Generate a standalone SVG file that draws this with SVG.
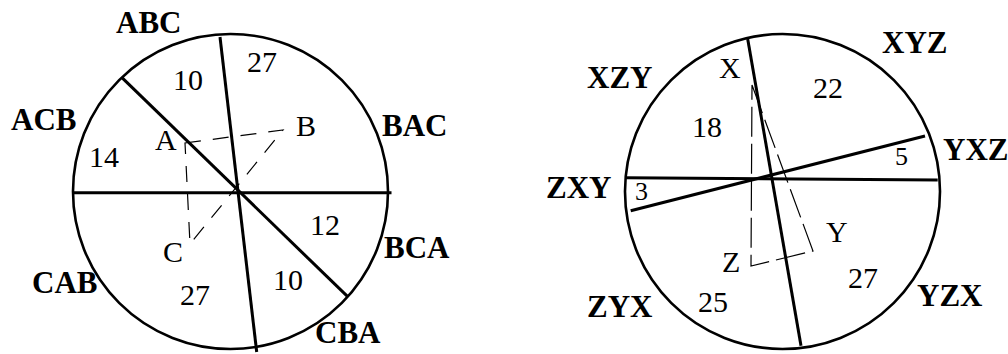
<svg xmlns="http://www.w3.org/2000/svg" width="1008" height="354" viewBox="0 0 1008 354">
  <style>
    .rim { fill: none; stroke: #000; stroke-width: 2.6; }
    .cut { stroke: #000; stroke-width: 3; stroke-linecap: butt; fill: none; }
    .tri { fill: none; stroke: #000; stroke-width: 1.2; }
    .triA { stroke-dasharray: 16 12; }
    .triX { stroke-dasharray: 30 7; }
    .lbl { font-weight: bold; font-size: 31px; }
    .num { font-size: 30px; }
    .sm { font-size: 26px; }
  </style>
  <rect width="1008" height="354" fill="#fff"/>

  <!-- Left disc: orderings of A, B, C -->
  <g id="left-disc" font-family="Liberation Serif, Tinos, Times New Roman, Times, Noto Serif, DejaVu Serif, serif" fill="#000">
    <circle class="rim" cx="230.5" cy="191.5" r="157.5"/>
    <g id="left-cuts">
      <line class="cut" x1="73" y1="192.7" x2="391.5" y2="192.7"/>
      <line class="cut" x1="220" y1="37" x2="256.7" y2="352"/>
      <line class="cut" x1="121.7" y1="77.3" x2="347.7" y2="296.7"/>
    </g>
    <polygon class="tri triA" points="185,143 283,130 190,244"/>
    <text class="lbl" x="116" y="33">ABC</text>
    <text class="lbl" x="11" y="130">ACB</text>
    <text class="lbl" x="382" y="136">BAC</text>
    <text class="lbl" x="384" y="258">BCA</text>
    <text class="lbl" x="32" y="293">CAB</text>
    <text class="lbl" x="315" y="343">CBA</text>
    <text class="num" x="173" y="90">10</text>
    <text class="num" x="247" y="72">27</text>
    <text class="num" x="89" y="167">14</text>
    <text class="num" x="310" y="235">12</text>
    <text class="num" x="180" y="305">27</text>
    <text class="num" x="273" y="290">10</text>
    <text class="num" x="155" y="150">A</text>
    <text class="num" x="296" y="136">B</text>
    <text class="num" x="163" y="262">C</text>
  </g>

  <!-- Right disc: orderings of X, Y, Z -->
  <g id="right-disc" font-family="Liberation Serif, Tinos, Times New Roman, Times, Noto Serif, DejaVu Serif, serif" fill="#000">
    <circle class="rim" cx="782.5" cy="191.5" r="157.5"/>
    <g id="right-cuts">
      <line class="cut" x1="626" y1="177.7" x2="937.7" y2="180"/>
      <line class="cut" x1="630.7" y1="210.7" x2="925" y2="136"/>
      <line class="cut" x1="747.7" y1="39" x2="801" y2="345.7"/>
    </g>
    <polygon class="tri triX" points="752,85 813,251 751,266"/>
    <text class="lbl" x="882" y="53">XYZ</text>
    <text class="lbl" x="587" y="88">XZY</text>
    <text class="lbl" x="943" y="160">YXZ</text>
    <text class="lbl" x="546" y="198">ZXY</text>
    <text class="lbl" x="917" y="306">YZX</text>
    <text class="lbl" x="587" y="317">ZYX</text>
    <text class="num" x="813" y="98">22</text>
    <text class="num" x="692" y="137">18</text>
    <text class="num sm" x="895" y="165">5</text>
    <text class="num sm" x="635" y="200">3</text>
    <text class="num" x="848" y="288">27</text>
    <text class="num" x="698" y="312">25</text>
    <text class="num" x="719" y="78">X</text>
    <text class="num" x="826" y="242">Y</text>
    <text class="num" x="722" y="272">Z</text>
  </g>
</svg>
